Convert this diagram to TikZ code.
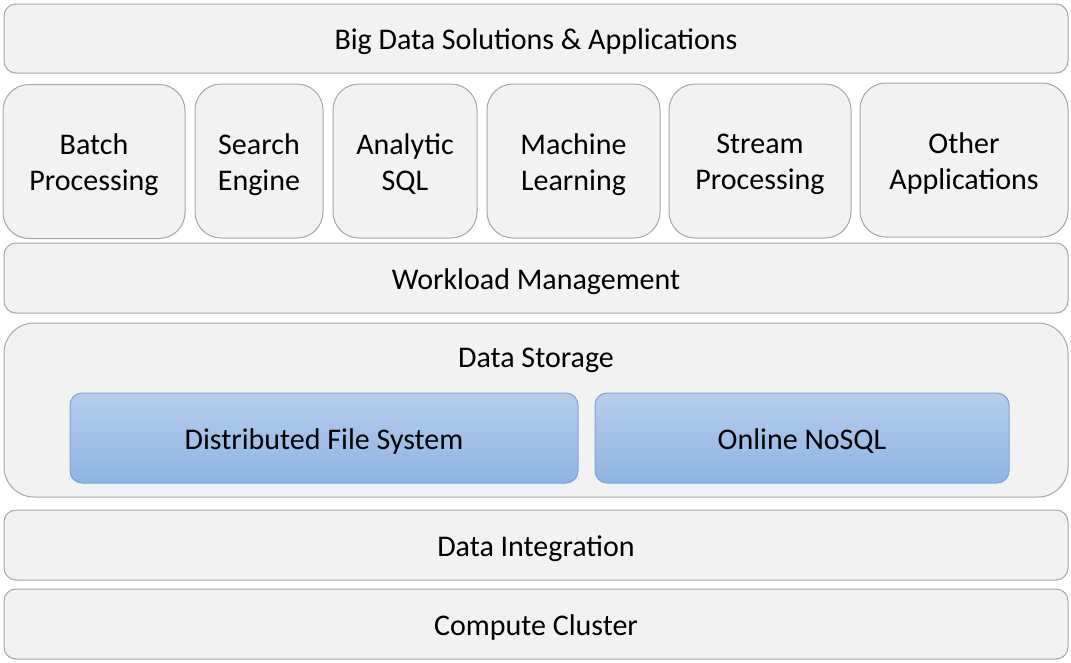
\documentclass[tikz,border=0pt]{standalone}
\usepackage{fontspec}
\setmainfont{Carlito}
\definecolor{boxfill}{HTML}{F2F2F2}
\definecolor{boxline}{HTML}{A6A6A6}
\definecolor{bluetop}{HTML}{B5CEEB}
\definecolor{bluebot}{HTML}{8FB4E2}
\definecolor{blueline}{HTML}{79A5DA}
\begin{document}
\begin{tikzpicture}[x=1pt,y=-1pt,
  every node/.style={font=\fontsize{30}{36}\selectfont, align=center, inner sep=0pt},
  lbl/.style={yshift=-3.5pt},
  layer/.style={draw=boxline, fill=boxfill, line width=1pt, rounded corners=12pt, minimum width=1064pt, minimum height=70pt},
  app/.style={draw=boxline, fill=boxfill, line width=1pt, rounded corners=26pt, minimum height=154pt},
  store/.style={draw=blueline, top color=bluetop, bottom color=bluebot, line width=1pt, rounded corners=12pt, minimum height=90pt}]
\useasboundingbox (0,0) rectangle (1071,662);
\node[layer, minimum height=69pt] (top) at (536,38.5) {};
\node[lbl] (topt) at (top.center) {Big Data Solutions \& Applications};
\node[app, minimum width=182pt] (batch) at (94,161.5) {};
\node[lbl] (batcht) at (batch.center) {Batch\\Processing};
\node[app, minimum width=128pt] (search) at (259,161) {};
\node[lbl] (searcht) at (search.center) {Search\\Engine};
\node[app, minimum width=144pt] (analytic) at (405,161) {};
\node[lbl] (analytict) at (analytic.center) {Analytic\\SQL};
\node[app, minimum width=173pt] (ml) at (573.5,161) {};
\node[lbl] (mlt) at (ml.center) {Machine\\Learning};
\node[app, minimum width=182pt] (stream) at (760,161) {};
\node[lbl] (streamt) at (stream.center) {Stream\\Processing};
\node[app, minimum width=208pt] (other) at (964,160) {};
\node[lbl] (othert) at (other.center) {Other\\Applications};
\node[layer] (work) at (536,278) {};
\node[lbl] (workt) at (work.center) {Workload Management};
\node[layer, minimum height=174pt, rounded corners=30pt] (storage) at (536,410) {};
\node[lbl] (storagelbl) at (536,357) {Data Storage};
\node[store, minimum width=508pt] (dfs) at (324,438) {};
\node[lbl] (dfst) at (dfs.center) {Distributed File System};
\node[store, minimum width=414pt] (nosql) at (802,438) {};
\node[lbl] (nosqlt) at (nosql.center) {Online NoSQL};
\node[layer] (integ) at (536,545) {};
\node[lbl] (integt) at (integ.center) {Data Integration};
\node[layer] (compute) at (536,624) {};
\node[lbl] (computet) at (compute.center) {Compute Cluster};
\end{tikzpicture}
\end{document}
